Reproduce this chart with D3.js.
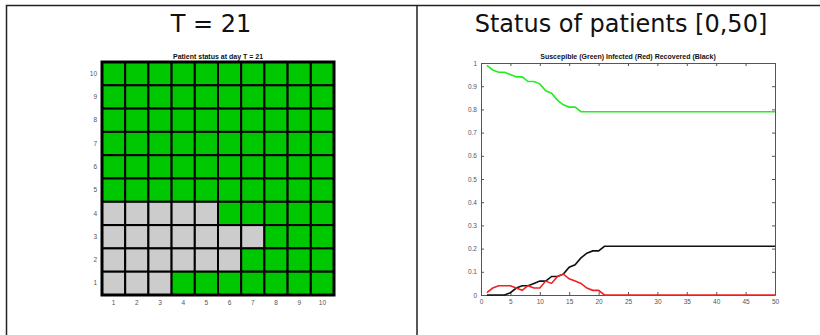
<!DOCTYPE html>
<html>
<head>
<meta charset="utf-8">
<script src="https://cdn.jsdelivr.net/npm/d3@7"></script>
<style>
  body { margin: 0; background: #fff; }
  .axis { color: #555; }
  .axis text { font-family: "Liberation Sans", Arial, sans-serif; font-size: 6.5px; }
  .big { font-family: "DejaVu Sans", sans-serif; font-size: 24px; fill: #111; }
  .small-title { font-family: "Liberation Sans", Arial, sans-serif; font-size: 7px; font-weight: bold; fill: #111; }
</style>
</head>
<body>
<svg id="chart"></svg>
<script>
// grid state at day 21: 1 = susceptible (green), 2 = recovered (grey); rows listed 10 down to 1
const rowLabels = [10, 9, 8, 7, 6, 5, 4, 3, 2, 1];
const colLabels = [1, 2, 3, 4, 5, 6, 7, 8, 9, 10];
const gridStatus = [
  [1, 1, 1, 1, 1, 1, 1, 1, 1, 1],
  [1, 1, 1, 1, 1, 1, 1, 1, 1, 1],
  [1, 1, 1, 1, 1, 1, 1, 1, 1, 1],
  [1, 1, 1, 1, 1, 1, 1, 1, 1, 1],
  [1, 1, 1, 1, 1, 1, 1, 1, 1, 1],
  [1, 1, 1, 1, 1, 1, 1, 1, 1, 1],
  [2, 2, 2, 2, 2, 1, 1, 1, 1, 1],
  [2, 2, 2, 2, 2, 2, 2, 1, 1, 1],
  [2, 2, 2, 2, 2, 2, 1, 1, 1, 1],
  [2, 2, 2, 1, 1, 1, 1, 1, 1, 1]
];

// fraction of patients per day, days 1..50
const days = [1,2,3,4,5,6,7,8,9,10,11,12,13,14,15,16,17,18,19,20,21,22,23,24,25,
  26,27,28,29,30,31,32,33,34,35,36,37,38,39,40,41,42,43,44,45,46,47,48,49,50];
const susceptible = [0.99,0.97,0.96,0.96,0.95,0.94,0.94,0.92,0.92,0.91,0.88,0.87,0.84,0.82,0.81,
  0.81,0.79,0.79,0.79,0.79,0.79,0.79,0.79,0.79,0.79,0.79,0.79,0.79,0.79,0.79,0.79,0.79,0.79,0.79,
  0.79,0.79,0.79,0.79,0.79,0.79,0.79,0.79,0.79,0.79,0.79,0.79,0.79,0.79,0.79,0.79];
const infected = [0.01,0.03,0.04,0.04,0.04,0.03,0.02,0.04,0.03,0.03,0.06,0.05,0.08,0.09,0.07,
  0.06,0.05,0.03,0.02,0.02,0,0,0,0,0,0,0,0,0,0,0,0,0,0,0,0,0,0,0,0,0,0,0,0,0,0,0,0,0,0];
const recovered = [0,0,0,0,0.01,0.03,0.04,0.04,0.05,0.06,0.06,0.08,0.08,0.09,0.12,
  0.13,0.16,0.18,0.19,0.19,0.21,0.21,0.21,0.21,0.21,0.21,0.21,0.21,0.21,0.21,0.21,0.21,0.21,0.21,
  0.21,0.21,0.21,0.21,0.21,0.21,0.21,0.21,0.21,0.21,0.21,0.21,0.21,0.21,0.21,0.21];

const xTicks = [0, 5, 10, 15, 20, 25, 30, 35, 40, 45, 50];
const yTicks = [0, 0.1, 0.2, 0.3, 0.4, 0.5, 0.6, 0.7, 0.8, 0.9, 1];

const svg = d3.select("#chart").attr("width", 820).attr("height", 335);

// table frame
svg.append("path")
  .attr("d", "M6.5,336 V5.5 H822 M417,5.5 V336")
  .attr("fill", "none")
  .attr("stroke", "#222")
  .attr("stroke-width", 1.5);

svg.append("text").attr("class", "big").attr("x", 211).attr("y", 32)
  .attr("text-anchor", "middle").text("T = 21");
svg.append("text").attr("class", "big").attr("x", 621).attr("y", 32)
  .attr("text-anchor", "middle").text("Status of patients [0,50]");

// ---- left: grid of patients ----
const gx = d3.scaleBand().domain(colLabels).range([102, 334]);
const gy = d3.scaleBand().domain(rowLabels).range([62, 295]);
const statusColor = { 1: "#00c800", 2: "#cccccc" };

const cells = [];
gridStatus.forEach((row, i) => row.forEach((s, j) => cells.push({ r: rowLabels[i], c: colLabels[j], s: s })));

const grid = svg.append("g");
grid.selectAll("rect.cell")
  .data(cells)
  .enter()
  .append("rect")
  .attr("class", "cell")
  .attr("x", (d) => gx(d.c))
  .attr("y", (d) => gy(d.r))
  .attr("width", gx.bandwidth())
  .attr("height", gy.bandwidth())
  .attr("fill", (d) => statusColor[d.s])
  .attr("stroke", "#000")
  .attr("stroke-width", 2);

grid.append("rect")
  .attr("x", 102).attr("y", 62).attr("width", 232).attr("height", 233)
  .attr("fill", "none").attr("stroke", "#000").attr("stroke-width", 3);

svg.append("g").attr("class", "axis")
  .attr("transform", "translate(100,0)")
  .call(d3.axisLeft(gy).tickSize(0).tickPadding(3))
  .call((g) => g.select(".domain").remove());

svg.append("g").attr("class", "axis")
  .attr("transform", "translate(0,297)")
  .call(d3.axisBottom(gx).tickSize(0).tickPadding(3))
  .call((g) => g.select(".domain").remove());

svg.append("text").attr("class", "small-title").attr("x", 218).attr("y", 59)
  .attr("text-anchor", "middle").text("Patient status at day T = 21");

// ---- right: SIR curves ----
const x = d3.scaleLinear().domain([0, 50]).range([481, 775]);
const y = d3.scaleLinear().domain([0, 1]).range([295, 63]);

svg.append("g").attr("class", "axis")
  .attr("transform", "translate(0,295)")
  .call(d3.axisBottom(x).tickValues(xTicks).tickSizeInner(-3).tickSizeOuter(0).tickPadding(4).tickFormat(d3.format("d")));
svg.append("g").attr("class", "axis")
  .attr("transform", "translate(0,63)")
  .call(d3.axisTop(x).tickValues(xTicks).tickSizeInner(-3).tickSizeOuter(0).tickFormat(""));
svg.append("g").attr("class", "axis")
  .attr("transform", "translate(481,0)")
  .call(d3.axisLeft(y).tickValues(yTicks).tickSizeInner(-3).tickSizeOuter(0).tickPadding(4).tickFormat((d) => d3.format("")(+d.toFixed(1))));
svg.append("g").attr("class", "axis")
  .attr("transform", "translate(775,0)")
  .call(d3.axisRight(y).tickValues(yTicks).tickSizeInner(-3).tickSizeOuter(0).tickFormat(""));

const line = d3.line().x((d) => x(d[0])).y((d) => y(d[1]));
const series = [
  { values: susceptible, color: "#22ee22" },
  { values: recovered, color: "#111" },
  { values: infected, color: "#ee2222" }
];
svg.selectAll("path.series")
  .data(series)
  .enter()
  .append("path")
  .attr("class", "series")
  .attr("fill", "none")
  .attr("stroke", (d) => d.color)
  .attr("stroke-width", 1.6)
  .attr("d", (d) => line(days.map((t, i) => [t, d.values[i]])));

svg.append("text").attr("class", "small-title").attr("x", 628).attr("y", 59)
  .attr("text-anchor", "middle").text("Suscepible (Green) Infected (Red) Recovered (Black)");
</script>
</body>
</html>
